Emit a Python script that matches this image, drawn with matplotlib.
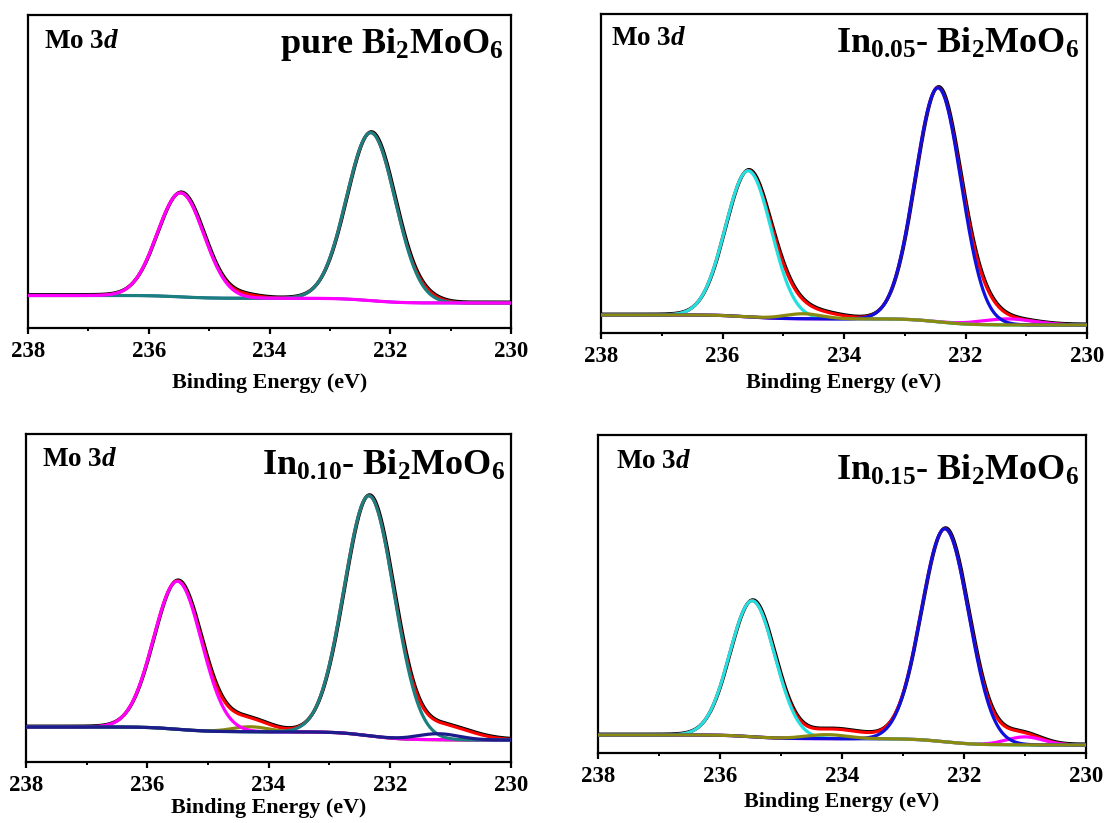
import numpy as np
import matplotlib
matplotlib.use("Agg")
import matplotlib.pyplot as plt
from matplotlib.ticker import MultipleLocator

plt.rcParams['font.family'] = ['Liberation Serif', 'DejaVu Serif']
plt.rcParams['font.weight'] = 'bold'
plt.rcParams['mathtext.fontset'] = 'custom'
plt.rcParams['mathtext.rm'] = 'Liberation Serif:bold'
plt.rcParams['mathtext.it'] = 'Liberation Serif:bold:italic'
plt.rcParams['mathtext.bf'] = 'Liberation Serif:bold'
plt.rcParams['mathtext.default'] = 'rm'

# ---------------- data ----------------
energy_range = [238, 230]
energy_ticks = [238, 236, 234, 232, 230]
region_label = r"Mo 3$\mathit{d}$"
x_label = "Binding Energy (eV)"

titles = [r"pure Bi$_2$MoO$_6$",
          r"In$_{0.05}$- Bi$_2$MoO$_6$",
          r"In$_{0.10}$- Bi$_2$MoO$_6$",
          r"In$_{0.15}$- Bi$_2$MoO$_6$"]

# fitted components: centre (eV), height (a.u.), FWHM (eV)
a_center = [232.32, 235.47]
a_height = [168, 104]
a_fwhm = [0.95, 0.91]
a_res_center = [234.40, 231.40]      # residual shoulders seen only in measured curve
a_res_height = [2.5, 2.5]
a_res_fwhm = [0.6, 0.6]
a_bg = [32.5, 25.0]                  # background at 238 eV and 230 eV

b_center = [231.30, 235.575, 232.45, 234.67]
b_height = [6, 146, 234, 5]
b_fwhm = [1.0, 0.89, 0.89, 0.7]
b_res_center = [234.95, 234.30, 231.70]
b_res_height = [6, 4, 8]
b_res_fwhm = [0.6, 0.8, 0.6]
b_bg = [18.0, 8.0]

c_center = [234.30, 235.50, 232.34, 231.20]
c_height = [5, 148, 240, 6]
c_fwhm = [0.7, 0.93, 0.97, 0.8]
c_res_center = [234.45, 230.95]
c_res_height = [8, 8]
c_res_fwhm = [1.0, 1.0]
c_bg = [35.0, 22.0]

d_center = [231.00, 235.47, 232.31, 234.25]
d_height = [8, 136, 213, 4]
d_fwhm = [0.7, 0.87, 0.92, 0.8]
d_res_center = [233.95, 231.30]
d_res_height = [6, 5]
d_res_fwhm = [1.2, 0.8]
d_bg = [18.0, 8.0]

# ---------------- styles ----------------
a_colors = ['#1b7f7f', '#ff00ff']
b_colors = ['#ff00ff', '#22e0e0', '#1010dd', '#8a8a10']
c_colors = ['#8a8a10', '#ff00ff', '#1b7f7f', '#1c1c8c']
d_colors = ['#ff00ff', '#22e0e0', '#1010dd', '#8a8a10']
bg_colors = ['#2040c0', '#44b030', '#1c1c8c', '#44b030']

panels = [
    (a_center, a_height, a_fwhm, a_res_center, a_res_height, a_res_fwhm, a_bg, a_colors),
    (b_center, b_height, b_fwhm, b_res_center, b_res_height, b_res_fwhm, b_bg, b_colors),
    (c_center, c_height, c_fwhm, c_res_center, c_res_height, c_res_fwhm, c_bg, c_colors),
    (d_center, d_height, d_fwhm, d_res_center, d_res_height, d_res_fwhm, d_bg, d_colors),
]

# axes boxes in pixels (left, top, right, bottom) for a 1108x823 canvas
W, H = 1108, 823
boxes = [(28, 15, 511, 328), (601, 14, 1087, 333), (26, 434, 511, 762), (598, 435, 1086, 753)]
label_pos = [(0.033, 0.895), (0.021, 0.903), (0.032, 0.903), (0.037, 0.896)]
title_pos = [(0.9855, 0.879), (0.9835, 0.877), (0.988, 0.875), (0.986, 0.858)]
xlabel_y = [-0.1757, -0.157, -0.140, -0.154]


def line_shape(x, c, h, w):
    return h * np.exp(-4 * np.log(2) * ((x - c) / w) ** 2)


fig = plt.figure(figsize=(W / 100, H / 100), dpi=100)
x = np.linspace(230, 238, 1601)

for i, (cen, hei, fw, rc, rh, rw, bg, cols) in enumerate(panels):
    l, t, r, b = boxes[i]
    ax = fig.add_axes([l / W, 1 - b / H, (r - l) / W, (b - t) / H])
    comps = [line_shape(x, c, h, w) for c, h, w in zip(cen, hei, fw)]
    resid = [line_shape(x, c, h, w) for c, h, w in zip(rc, rh, rw)]
    total = np.sum(comps, axis=0) + np.sum(resid, axis=0)
    # Shirley-type background
    cum = np.concatenate([[0], np.cumsum(0.5 * (total[1:] + total[:-1]) * np.diff(x))])
    back = bg[1] + (bg[0] - bg[1]) * cum / cum[-1]
    envelope = back + total

    ax.plot(x, back, color=bg_colors[i], lw=2.0, zorder=2)
    ax.plot(x - 0.012, envelope + 0.8, color='black', lw=2.4, zorder=3)
    ax.plot(x, envelope, color='#ff0000', lw=2.2, zorder=4)
    for k, (comp, col) in enumerate(zip(comps, cols)):
        ax.plot(x, back + comp, color=col, lw=2.3, zorder=5 + k)

    ax.set_xlim(energy_range)
    ax.set_ylim(0, b - t)
    ax.set_xticks(energy_ticks)
    ax.xaxis.set_minor_locator(MultipleLocator(1))
    ax.set_yticks([])
    ax.tick_params(axis='x', which='major', direction='out', length=4.5, width=1.6,
                   labelsize=16.5, pad=5)
    ax.tick_params(axis='x', which='minor', direction='out', length=2.5, width=1.4)
    for lab in ax.get_xticklabels():
        lab.set_fontweight('bold')
    for sp in ax.spines.values():
        sp.set_linewidth(1.6)
    ax.set_xlabel(x_label, fontsize=15.8, fontweight='bold', va='center')
    ax.xaxis.set_label_coords(0.5, xlabel_y[i])
    ax.text(label_pos[i][0], label_pos[i][1], region_label, transform=ax.transAxes,
            fontsize=19.5, fontweight='bold', ha='left', va='baseline')
    ax.text(title_pos[i][0], title_pos[i][1], titles[i], transform=ax.transAxes,
            fontsize=26, fontweight='bold', ha='right', va='baseline')

fig.savefig("out.png", dpi=100)
